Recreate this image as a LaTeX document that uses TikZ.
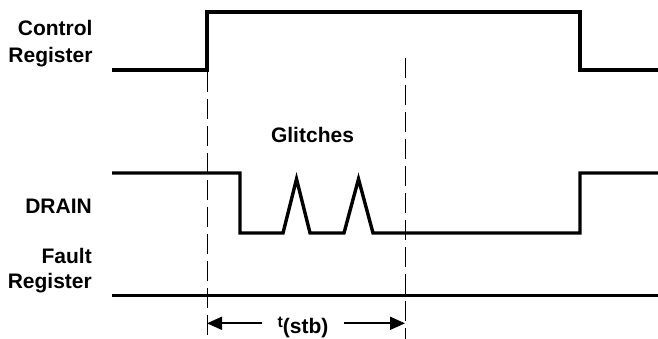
\documentclass[tikz,border=0pt]{standalone}
\usepackage{fontspec}
\setmainfont{Liberation Sans}
\usetikzlibrary{arrows.meta}

\begin{document}
\begin{tikzpicture}[
  x=1pt, y=-1pt,
  line cap=butt, line join=miter,
  wave/.style={line width=3.4pt},
  guide/.style={line width=1pt, dash pattern=on 20pt off 7pt},
  dimarrow/.style={line width=1.8pt, -{Triangle[length=15pt,width=13pt]}},
  every node/.style={inner sep=0pt},
  lbl/.style={font=\fontsize{21pt}{21pt}\selectfont\bfseries}
]
  \useasboundingbox (0,0) rectangle (658,339);
  % ---- Control Register ----
  \coordinate (C0) at (112,70);
  \coordinate (C1) at (207,70);
  \coordinate (C2) at (207,12);
  \coordinate (C3) at (580,12);
  \coordinate (C4) at (580,70);
  \coordinate (C5) at (658,70);
  \draw[wave] (C0) -- (C1) -- (C2) -- (C3) -- (C4) -- (C5);
  % ---- DRAIN（两个毛刺） ----
  \coordinate (D0) at (112,173);
  \coordinate (D1) at (240,173);
  \coordinate (D2) at (240,233);
  \coordinate (D3) at (283,233);
  \coordinate (P1) at (296.5,179);
  \coordinate (D4) at (310,233);
  \coordinate (D5) at (344,233);
  \coordinate (P2) at (358.5,179);
  \coordinate (D6) at (373,233);
  \coordinate (D7) at (580,233);
  \coordinate (D8) at (580,173);
  \coordinate (D9) at (658,173);
  \draw[wave] (D0) -- (D1) -- (D2) -- (D3) -- (P1) -- (D4) -- (D5) -- (P2) -- (D6)
    -- (D7) -- (D8) -- (D9);
  % ---- Fault Register ----
  \coordinate (F0) at (112,295.5);
  \coordinate (F1) at (658,295.5);
  \draw[wave] (F0) -- (F1);
  % ---- 虚线参考线 ----
  \coordinate (G1a) at (207,72);
  \coordinate (G1b) at (207,339);
  \coordinate (G2a) at (405,58);
  \coordinate (G2b) at (405,339);
  \draw[guide] (G1a) -- (G1b);
  \draw[guide] (G2a) -- (G2b);
  % ---- t(stb) 标注 ----
  \coordinate (L) at (207,323.3);
  \coordinate (R) at (405,323.3);
  \node[anchor=base, inner xsep=15pt] (tstb) at (303,327)
    {\bfseries{\fontsize{16pt}{16pt}\selectfont t}\raisebox{-6pt}{\fontsize{21pt}{21pt}\selectfont(stb)}};
  \draw[dimarrow] (tstb.west |- L) -- (L);
  \draw[dimarrow] (tstb.east |- R) -- (R);
  % ---- 标签 ----
  \node[lbl, anchor=base east] (ctrlA) at (92.7,36) {Control};
  \node[lbl, anchor=base east] (ctrlB) at (92.7,62.5) {Register};
  \node[lbl, anchor=base east] (drain) at (92,213) {DRAIN};
  \node[lbl, anchor=base east] (faultA) at (92,263) {Fault};
  \node[lbl, anchor=base east] (faultB) at (92,288) {Register};
  \node[lbl, anchor=base] (glitch) at (312.5,143) {Glitches};
\end{tikzpicture}
\end{document}
